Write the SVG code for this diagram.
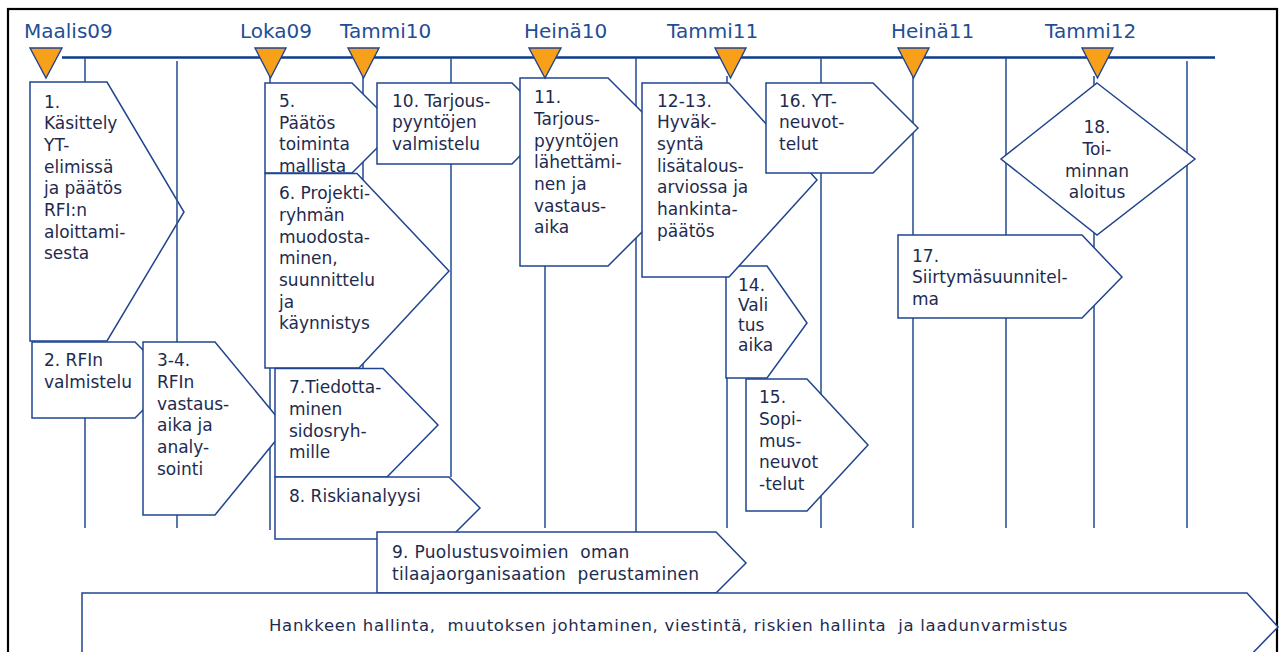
<svg xmlns="http://www.w3.org/2000/svg" width="1281" height="652" viewBox="0 0 1281 652">
  <style>
    .box { fill: #ffffff; stroke: #1f4590; stroke-width: 1.5; stroke-linejoin: miter; }
    .txt { font-family: "DejaVu Sans", Verdana, sans-serif; font-size: 17px; fill: #1e2b4f; }
    .mid { text-anchor: middle; }
    .wide { letter-spacing: 0.3px; }
    .lane { stroke: #2f5597; stroke-width: 1.6; fill: none; }
    .axis { stroke: #0b3a8c; stroke-width: 2.4; fill: none; }
    .ms { fill: #f9a01b; stroke: #1f4590; stroke-width: 1.4; }
    .mslabel { font-family: "DejaVu Sans", Verdana, sans-serif; font-size: 20px; fill: #1f4e96; }
  </style>

  <rect x="0" y="0" width="1281" height="652" fill="#ffffff"/>
  <!-- outer frame -->
  <rect x="8" y="9" width="1269" height="660" fill="none" stroke="#000000" stroke-width="2.2"/>

  <!-- phase 1 sits under the lane lines -->
  <g id="n1">
    <polygon class="box" points="30,82 107,82 184,212 107,341 30,341"/>
    <text class="txt"><tspan x="44" y="107.5">1.</tspan><tspan x="44" y="129.2">Käsittely</tspan><tspan x="44" y="150.9">YT-</tspan><tspan x="44" y="172.6">elimissä</tspan><tspan x="44" y="194.3">ja päätös</tspan><tspan x="44" y="216">RFI:n</tspan><tspan x="44" y="237.7">aloittami-</tspan><tspan x="44" y="259.4">sesta</tspan></text>
  </g>

  <!-- time axis and lane lines -->
  <g id="connectors">
    <line class="axis" x1="62" y1="57.5" x2="1215" y2="57.5"/>
    <line class="lane" x1="85" y1="58" x2="85" y2="82"/>
    <line class="lane" x1="85" y1="418" x2="85" y2="528"/>
    <line class="lane" x1="177" y1="61" x2="177" y2="528"/>
    <line class="lane" x1="270" y1="76" x2="270" y2="530"/>
    <line class="lane" x1="363" y1="76" x2="363" y2="528"/>
    <line class="lane" x1="451" y1="58" x2="451" y2="477"/>
    <line class="lane" x1="545" y1="76" x2="545" y2="528"/>
    <line class="lane" x1="636" y1="58" x2="636" y2="532"/>
    <line class="lane" x1="727" y1="76" x2="727" y2="528"/>
    <line class="lane" x1="821" y1="58" x2="821" y2="528"/>
    <line class="lane" x1="913" y1="76" x2="913" y2="528"/>
    <line class="lane" x1="1006" y1="58" x2="1006" y2="528"/>
    <line class="lane" x1="1094" y1="76" x2="1094" y2="528"/>
    <line class="lane" x1="1187" y1="61" x2="1187" y2="528"/>
  </g>

  <g id="n2">
    <polygon class="box" points="32,342 135,342 173,380 135,418 32,418"/>
    <text class="txt"><tspan x="44" y="366">2. RFIn</tspan><tspan x="44" y="388">valmistelu</tspan></text>
  </g>

  <g id="n3-4">
    <polygon class="box" points="143,342 215,342 286,428 215,515 143,515"/>
    <text class="txt"><tspan x="157" y="366">3-4.</tspan><tspan x="157" y="388">RFIn</tspan><tspan x="157" y="409.5">vastaus-</tspan><tspan x="157" y="431">aika ja</tspan><tspan x="157" y="453">analy-</tspan><tspan x="157" y="474.5">sointi</tspan></text>
  </g>

  <g id="n5">
    <polygon class="box" points="265,83 352,83 397,128 352,173 265,173"/>
    <text class="txt"><tspan x="279" y="107">5.</tspan><tspan x="279" y="128.5">Päätös</tspan><tspan x="279" y="150">toiminta</tspan><tspan x="279" y="171.5">mallista</tspan></text>
  </g>

  <g id="n10">
    <polygon class="box" points="377,83 512,83 552,123 512,164 377,164"/>
    <text class="txt"><tspan x="392" y="106.7">10. Tarjous-</tspan><tspan x="392" y="128.3">pyyntöjen</tspan><tspan x="392" y="150">valmistelu</tspan></text>
  </g>

  <g id="n6">
    <polygon class="box" points="265,173.5 357,173.5 449,271 359,368 265,368"/>
    <text class="txt"><tspan x="279" y="199.3">6. Projekti-</tspan><tspan x="279" y="221">ryhmän</tspan><tspan x="279" y="242.7">muodosta-</tspan><tspan x="279" y="264.4">minen,</tspan><tspan x="279" y="286">suunnittelu</tspan><tspan x="279" y="307.7">ja</tspan><tspan x="279" y="329.4">käynnistys</tspan></text>
  </g>

  <g id="n7">
    <polygon class="box" points="275,368.5 383,368.5 438,425 387,477 275,477"/>
    <text class="txt"><tspan x="289" y="393.3">7.Tiedotta-</tspan><tspan x="289" y="415">minen</tspan><tspan x="289" y="436.7">sidosryh-</tspan><tspan x="289" y="458.3">mille</tspan></text>
  </g>

  <g id="n8">
    <polygon class="box" points="275,477 449,477 480,508 449,539 275,539"/>
    <text class="txt"><tspan x="289" y="501.7">8. Riskianalyysi</tspan></text>
  </g>

  <g id="n9">
    <polygon class="box" points="377,532 716,532 746,563 716,593 377,593"/>
    <text class="txt wide" xml:space="preserve"><tspan x="392" y="558.3">9. Puolustusvoimien  oman</tspan><tspan x="392" y="580">tilaajaorganisaation  perustaminen</tspan></text>
  </g>

  <g id="n11">
    <polygon class="box" points="520,78 608,78 702,172 608,266 520,266"/>
    <text class="txt"><tspan x="534" y="103.3">11.</tspan><tspan x="534" y="125">Tarjous-</tspan><tspan x="534" y="146.7">pyyntöjen</tspan><tspan x="534" y="168.3">lähettämi-</tspan><tspan x="534" y="190">nen ja</tspan><tspan x="534" y="211.7">vastaus-</tspan><tspan x="534" y="233.3">aika</tspan></text>
  </g>

  <g id="n14">
    <polygon class="box" points="726,266 767,266 807,323 767,378 726,378"/>
    <text class="txt"><tspan x="738" y="290.7">14.</tspan><tspan x="738" y="311">Vali</tspan><tspan x="738" y="331">tus</tspan><tspan x="738" y="351">aika</tspan></text>
  </g>

  <g id="n12-13">
    <polygon class="box" points="642,83 729,83 817,180 729,277 642,277"/>
    <text class="txt"><tspan x="657" y="106.7">12-13.</tspan><tspan x="657" y="128.3">Hyväk-</tspan><tspan x="657" y="150">syntä</tspan><tspan x="657" y="171.7">lisätalous-</tspan><tspan x="657" y="193.3">arviossa ja</tspan><tspan x="657" y="215">hankinta-</tspan><tspan x="657" y="236.7">päätös</tspan></text>
  </g>

  <g id="n16">
    <polygon class="box" points="766,83 873,83 918,128 873,173 766,173"/>
    <text class="txt"><tspan x="779" y="106.7">16. YT-</tspan><tspan x="779" y="128.3">neuvot-</tspan><tspan x="779" y="150">telut</tspan></text>
  </g>

  <g id="n15">
    <polygon class="box" points="746,379 807,379 868,445 807,511 746,511"/>
    <text class="txt"><tspan x="759" y="403.3">15.</tspan><tspan x="759" y="425">Sopi-</tspan><tspan x="759" y="446.7">mus-</tspan><tspan x="759" y="468.3">neuvot</tspan><tspan x="759" y="489.5">-telut</tspan></text>
  </g>

  <g id="n18">
    <polygon class="box" points="1097,83 1195,159 1097,235 1001,159"/>
    <text class="txt mid"><tspan x="1097" y="133.3">18.</tspan><tspan x="1097" y="155">Toi-</tspan><tspan x="1097" y="176.7">minnan</tspan><tspan x="1097" y="198.3">aloitus</tspan></text>
  </g>

  <g id="n17">
    <polygon class="box" points="898,235 1082,235 1122,277 1082,318 898,318"/>
    <text class="txt"><tspan x="912" y="261.7">17.</tspan><tspan x="912" y="283.3">Siirtymäsuunnitel-</tspan><tspan x="912" y="305">ma</tspan></text>
  </g>

  <g id="n-hallinta">
    <polygon class="box" points="82,593 1247,593 1278,627 1245,661 82,661"/>
    <text class="txt" style="font-size:16.5px;letter-spacing:0.7px" xml:space="preserve" x="269" y="631">Hankkeen hallinta,  muutoksen johtaminen, viestintä, riskien hallinta  ja laadunvarmistus</text>
  </g>

  <!-- milestones on the time axis -->
  <g id="milestones">
    <polygon class="ms" points="30,48 62,48 46,78"/>
    <polygon class="ms" points="255,48 286,48 270.5,78"/>
    <polygon class="ms" points="348,48 379,48 363.5,78"/>
    <polygon class="ms" points="529,48 561,48 545,78"/>
    <polygon class="ms" points="715,48 746,48 730.5,78"/>
    <polygon class="ms" points="898,48 929,48 913.5,78"/>
    <polygon class="ms" points="1082,48 1113,48 1097.5,78"/>
    <text class="mslabel" x="24" y="38">Maalis09</text>
    <text class="mslabel" x="240" y="38">Loka09</text>
    <text class="mslabel" x="340" y="38">Tammi10</text>
    <text class="mslabel" x="524" y="38">Heinä10</text>
    <text class="mslabel" x="667" y="38">Tammi11</text>
    <text class="mslabel" x="891" y="38">Heinä11</text>
    <text class="mslabel" x="1045" y="38">Tammi12</text>
  </g>
</svg>
